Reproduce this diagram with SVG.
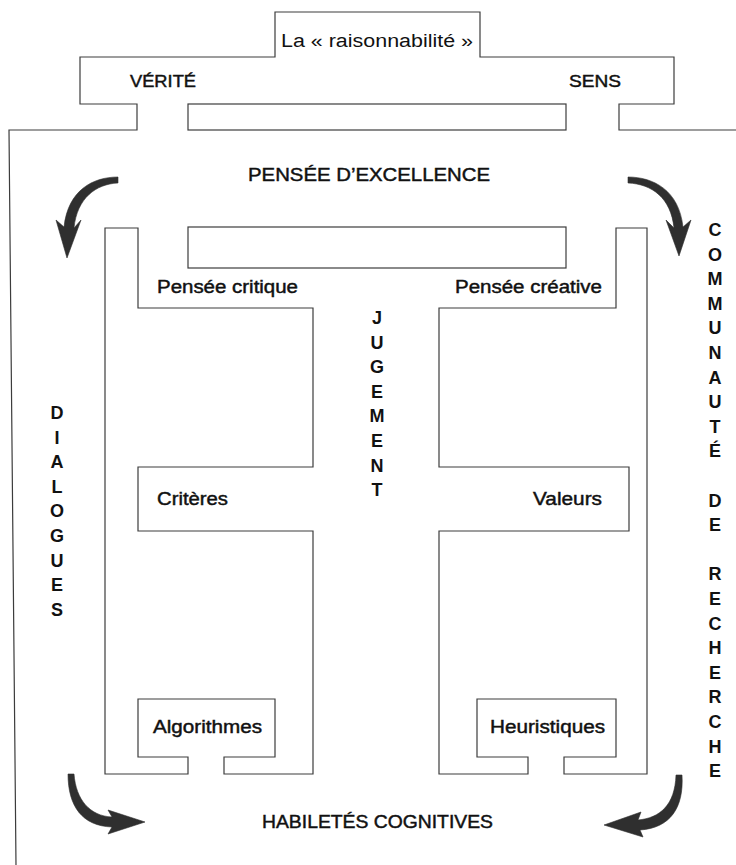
<svg xmlns="http://www.w3.org/2000/svg" width="736" height="865" viewBox="0 0 736 865">
<defs>
<style>
.ln{fill:none;stroke:#3c3c3c;stroke-width:1.2}
.t{font-family:"Liberation Sans",Arial,Helvetica,sans-serif;fill:#111}
.r{font-size:18px}
.m{font-size:18px;stroke:#111;stroke-width:0.45}
.v{font-size:18px;font-weight:bold;text-anchor:middle}
.arr{fill:#2f2f2f;stroke:#2f2f2f;stroke-width:0.6;stroke-linejoin:round}
</style>
</defs>
<rect width="736" height="865" fill="#fff"/>

<g id="raisonnabilite">
<path class="ln" d="M16,865 L9,130 H137 V104 H80 V57 H275 V12 H480 V57 H674 V104 H619 V130 H736"/>
<rect class="ln" x="188" y="104" width="378" height="26"/>
<text class="t r" x="281" y="47" textLength="192" lengthAdjust="spacingAndGlyphs">La « raisonnabilité »</text>
<text class="t m" x="130" y="87" style="font-size:17px" textLength="66" lengthAdjust="spacingAndGlyphs">VÉRITÉ</text>
<text class="t m" x="569" y="87" style="font-size:17px" textLength="52" lengthAdjust="spacingAndGlyphs">SENS</text>
</g>

<g id="pensee-excellence">
<text class="t m" x="248" y="181" style="font-size:19px" textLength="242" lengthAdjust="spacingAndGlyphs">PENSÉE D’EXCELLENCE</text>
<rect class="ln" x="188" y="227" width="378" height="41"/>
</g>

<g id="pensee-critique">
<path class="ln" d="M105,228 H138 V308 H313 V467 H138 V531 H313 V774 H224 V757 H275 V699 H138 V757 H188 V774 H105 Z"/>
<text class="t m" x="157" y="293" textLength="141" lengthAdjust="spacingAndGlyphs">Pensée critique</text>
<text class="t m" x="157" y="505" textLength="71" lengthAdjust="spacingAndGlyphs">Critères</text>
<text class="t m" x="153" y="733" textLength="109" lengthAdjust="spacingAndGlyphs">Algorithmes</text>
</g>

<g id="pensee-creative">
<path class="ln" d="M647,228 H616 V308 H439 V467 H629 V531 H439 V774 H528 V757 H477 V699 H616 V757 H564 V774 H647 Z"/>
<text class="t m" x="455" y="293" textLength="147" lengthAdjust="spacingAndGlyphs">Pensée créative</text>
<text class="t m" x="533" y="505" textLength="69" lengthAdjust="spacingAndGlyphs">Valeurs</text>
<text class="t m" x="490" y="733" textLength="115" lengthAdjust="spacingAndGlyphs">Heuristiques</text>
</g>

<g id="jugement">
<text class="t v"><tspan x="377" y="324">J</tspan><tspan x="377" y="348.6">U</tspan><tspan x="377" y="373.2">G</tspan><tspan x="377" y="397.8">E</tspan><tspan x="377" y="422.4">M</tspan><tspan x="377" y="447">E</tspan><tspan x="377" y="471.6">N</tspan><tspan x="377" y="496.2">T</tspan></text>
</g>

<g id="dialogues">
<text class="t v"><tspan x="57" y="419">D</tspan><tspan x="57" y="443.6">I</tspan><tspan x="57" y="468.2">A</tspan><tspan x="57" y="492.8">L</tspan><tspan x="57" y="517.4">O</tspan><tspan x="57" y="542">G</tspan><tspan x="57" y="566.6">U</tspan><tspan x="57" y="591.2">E</tspan><tspan x="57" y="615.8">S</tspan></text>
</g>

<g id="communaute">
<text class="t v"><tspan x="715" y="236">C</tspan><tspan x="715" y="260.6">O</tspan><tspan x="715" y="285.2">M</tspan><tspan x="715" y="309.8">M</tspan><tspan x="715" y="334.4">U</tspan><tspan x="715" y="359">N</tspan><tspan x="715" y="383.6">A</tspan><tspan x="715" y="408.2">U</tspan><tspan x="715" y="432.8">T</tspan><tspan x="715" y="457.4">É</tspan><tspan x="715" y="506.6">D</tspan><tspan x="715" y="531.2">E</tspan><tspan x="715" y="580.4">R</tspan><tspan x="715" y="605">E</tspan><tspan x="715" y="629.6">C</tspan><tspan x="715" y="654.2">H</tspan><tspan x="715" y="678.8">E</tspan><tspan x="715" y="703.4">R</tspan><tspan x="715" y="728">C</tspan><tspan x="715" y="752.6">H</tspan><tspan x="715" y="777.2">E</tspan></text>
</g>

<g id="habiletes">
<text class="t m" x="262" y="828" textLength="231" lengthAdjust="spacingAndGlyphs">HABILETÉS COGNITIVES</text>
</g>

<g id="connectors">
<path class="arr" d="M118,177 C93,177 68,190 64,227 L56,220 L67,258 L81,220 L74,228 C77,198 96,184 118,183 Z"/>
<path class="arr" d="M628,177 C653,177 679,190 683,227 L691,220 L679,256 L666,220 L674,228 C671,198 652,184 628,183 Z"/>
<path class="arr" d="M68,774 C68,806 82,826 112,827 L108,834 L145,822 L108,810 L112,817 C90,816 76,800 74,774 Z"/>
<path class="arr" d="M682,775 C684,808 670,828 640,830 L643,837 L604,825 L641,812 L638,820 C660,818 675,805 676,775 Z"/>
</g>
</svg>
